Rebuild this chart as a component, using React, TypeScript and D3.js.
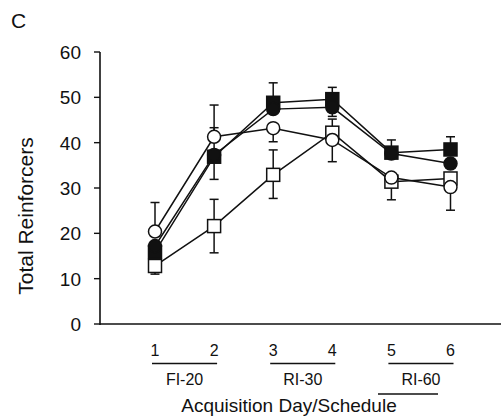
import React from "react";
import * as d3 from "d3";

const days = [1, 2, 3, 4, 5, 6];
const yTicks = [0, 10, 20, 30, 40, 50, 60];

// Series values (Total Reinforcers)
const openSquare = [12.8, 21.6, 32.9, 42.2, 31.4, 32.1];
const openSquareUp = [0, 5.9, 5.5, 3.0, 0, 0];
const openSquareDown = [1.8, 5.9, 5.2, 0, 4.0, 7.0];

const filledSquare = [15.9, 36.9, 48.8, 49.6, 37.8, 38.5];
const filledSquareUp = [0, 0, 4.4, 2.6, 2.8, 2.8];
const filledSquareDown = [0, 0, 0, 0, 0, 0];

const filledCircle = [17.2, 37.3, 47.4, 47.8, 37.6, 35.4];
const filledCircleUp = [0, 6.0, 0, 0, 0, 0];
const filledCircleDown = [0, 5.4, 0, 2.0, 0, 0];

const openCircle = [20.4, 41.3, 43.2, 40.6, 32.3, 30.2];
const openCircleUp = [6.4, 7.0, 0, 0, 0, 0];
const openCircleDown = [0, 0, 3.0, 4.8, 0, 0];

const groups = [
  { label: "FI-20", from: 1, to: 2 },
  { label: "RI-30", from: 3, to: 4 },
  { label: "RI-60", from: 5, to: 6 },
];

type Series = {
  values: number[];
  up: number[];
  down: number[];
  shape: "circle" | "square";
  fill: string;
};

const series: Series[] = [
  { values: openSquare, up: openSquareUp, down: openSquareDown, shape: "square", fill: "#fff" },
  { values: filledSquare, up: filledSquareUp, down: filledSquareDown, shape: "square", fill: "#111" },
  { values: filledCircle, up: filledCircleUp, down: filledCircleDown, shape: "circle", fill: "#111" },
  { values: openCircle, up: openCircleUp, down: openCircleDown, shape: "circle", fill: "#fff" },
];

export default function App() {
  const W = 502, H = 419;
  const x = d3.scaleLinear().domain([1, 6]).range([155, 450.5]);
  const y = d3.scaleLinear().domain([0, 60]).range([324, 52]);
  const axisX = 100;
  const font = "Arial, 'Liberation Sans', Helvetica, sans-serif";
  const line = d3
    .line<number>()
    .x((_, i) => x(days[i]))
    .y((v) => y(v));
  const cap = 4.5;
  const ink = "#111";

  return (
    <svg
      width={W}
      height={H}
      style={{ position: "absolute", left: 0, top: 0, background: "#fff" }}
      fontFamily={font}
    >
      <rect width={W} height={H} fill="#fff" />
      <text x={11} y={28} fontSize={21} fill={ink}>C</text>

      {/* y axis */}
      <line x1={axisX} x2={axisX} y1={y(60)} y2={y(0) + 1} stroke={ink} strokeWidth={1.6} />
      {yTicks.map((t) => (
        <g key={t}>
          <line x1={axisX - 6} x2={axisX} y1={y(t)} y2={y(t)} stroke={ink} strokeWidth={1.4} />
          <text x={axisX - 19} y={y(t)} dy="0.36em" textAnchor="end" fontSize={19} fill={ink}>
            {t}
          </text>
        </g>
      ))}
      {/* x axis */}
      <line x1={axisX} x2={501} y1={y(0)} y2={y(0)} stroke={ink} strokeWidth={1.6} />

      <text
        transform={`translate(${33},${(y(0) + y(60)) / 2 + 28}) rotate(-90)`}
        textAnchor="middle"
        fontSize={21}
        fill={ink}
      >
        Total Reinforcers
      </text>

      {/* day labels */}
      {days.map((d) => (
        <text key={d} x={x(d)} y={356} textAnchor="middle" fontSize={16} fill={ink}>
          {d}
        </text>
      ))}
      {groups.map((g) => (
        <g key={g.label}>
          <line x1={x(g.from) - 3} x2={x(g.to) + 3} y1={363.5} y2={363.5} stroke={ink} strokeWidth={1.5} />
          <text x={(x(g.from) + x(g.to)) / 2} y={385} textAnchor="middle" fontSize={16} fill={ink}>
            {g.label}
          </text>
        </g>
      ))}
      <line x1={378} x2={438} y1={394} y2={394} stroke={ink} strokeWidth={1.5} />
      <text x={289} y={412} textAnchor="middle" fontSize={19} fill={ink}>
        Acquisition Day/Schedule
      </text>

      {/* lines */}
      {series.map((s, si) => (
        <path key={"l" + si} d={line(s.values) || ""} fill="none" stroke={ink} strokeWidth={1.5} />
      ))}
      {/* error bars */}
      {series.map((s, si) =>
        s.values.map((v, i) => {
          const cx = x(days[i]);
          const out: JSX.Element[] = [];
          if (s.up[i] > 0) {
            const yy = y(v + s.up[i]);
            out.push(
              <g key={"u" + si + i}>
                <line x1={cx} x2={cx} y1={y(v)} y2={yy} stroke={ink} strokeWidth={1.5} />
                <line x1={cx - cap} x2={cx + cap} y1={yy} y2={yy} stroke={ink} strokeWidth={1.5} />
              </g>
            );
          }
          if (s.down[i] > 0) {
            const yy = y(v - s.down[i]);
            out.push(
              <g key={"d" + si + i}>
                <line x1={cx} x2={cx} y1={y(v)} y2={yy} stroke={ink} strokeWidth={1.5} />
                <line x1={cx - cap} x2={cx + cap} y1={yy} y2={yy} stroke={ink} strokeWidth={1.5} />
              </g>
            );
          }
          return out;
        })
      )}
      {/* markers */}
      {series.map((s, si) =>
        s.values.map((v, i) => {
          const cx = x(days[i]);
          const cy = y(v);
          return s.shape === "circle" ? (
            <circle key={"m" + si + i} cx={cx} cy={cy} r={6.5} fill={s.fill} stroke={ink} strokeWidth={1.5} />
          ) : (
            <rect key={"m" + si + i} x={cx - 6.5} y={cy - 6.5} width={13} height={13} fill={s.fill} stroke={ink} strokeWidth={1.5} />
          );
        })
      )}
    </svg>
  );
}
